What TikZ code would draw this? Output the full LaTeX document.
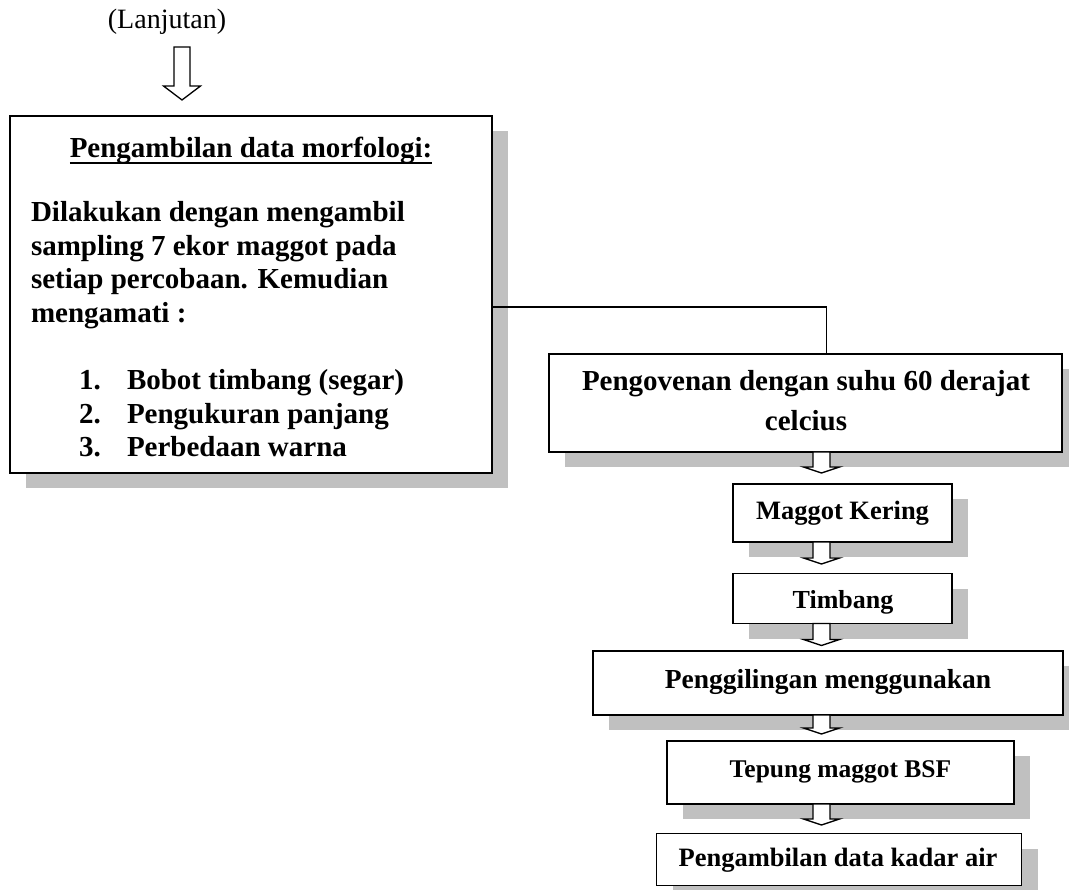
\documentclass[tikz,border=0pt]{standalone}
\usepackage{fontspec}
\setmainfont{Liberation Serif}
\usetikzlibrary{calc,shadows}
\definecolor{shgray}{RGB}{192,192,192}
\newcommand{\fsz}[1]{\fontsize{#1}{#1}\selectfont}
% #1 start point, #2 shaft half width, #3 head half width, #4 shaft length, #5 head length
\newcommand{\hollowarrow}[5]{%
  \draw[arrowline] ($#1+(-#2,0)$) -- ++(0,#4) -- ++({-(#3-#2)},0) -- ++(#3,#5) -- ++(#3,-#5) -- ++({-(#3-#2)},0) -- ++(0,-#4) -- cycle;}
\tikzset{
  boxnode/.style={draw=black, line width=1.8pt, fill=white, inner sep=0pt, outer sep=0pt, anchor=north west,
    drop shadow={shadow xshift=16pt, shadow yshift=-15pt, fill=shgray, opacity=1, draw=none}},
  lbl/.style={inner sep=0pt, outer sep=0pt, anchor=base, text=black},
  conn/.style={draw=black, line width=1.3pt},
  arrowline/.style={draw=black, line width=1.3pt, fill=white, line join=miter},
}
\begin{document}
\begin{tikzpicture}[x=1pt,y=-1pt]
\useasboundingbox (0,0) rectangle (1069,890);
\fill[white] (0,0) rectangle (1069,890);

% top label and arrow
\node[lbl, font=\fsz{28}] (lanj) at (167,29) {(Lanjutan)};
\coordinate (a0) at (182,47);
\hollowarrow{(a0)}{8}{18.5}{39}{14}

% big box
\node[boxnode, minimum width=482pt, minimum height=357pt] (big) at (10,116) {};
\node[lbl, font=\bfseries\fsz{29}] (ttl) at (251,158) {Pengambilan data morfologi:};
\draw[line width=1.8pt] ([yshift=-5pt]ttl.base west) -- ([yshift=-5pt]ttl.base east);
\node[lbl, anchor=base west, font=\bfseries\fsz{29}] (p1) at (31,222) {Dilakukan dengan mengambil};
\node[lbl, anchor=base west, font=\bfseries\fsz{29}] (p2) at (31,255.5) {sampling 7 ekor maggot pada};
\node[lbl, anchor=base west, font=\bfseries\fsz{29}] (p3) at (31,289) {setiap percobaan. Kemudian};
\node[lbl, anchor=base west, font=\bfseries\fsz{29}] (p4) at (31,322.5) {mengamati :};
\node[lbl, anchor=base west, font=\bfseries\fsz{29}] (n1) at (79,390) {1.};
\node[lbl, anchor=base west, font=\bfseries\fsz{29}] (l1) at (127,390) {Bobot timbang (segar)};
\node[lbl, anchor=base west, font=\bfseries\fsz{29}] (n2) at (79,423.5) {2.};
\node[lbl, anchor=base west, font=\bfseries\fsz{29}] (l2) at (127,423.5) {Pengukuran panjang};
\node[lbl, anchor=base west, font=\bfseries\fsz{29}] (n3) at (79,457) {3.};
\node[lbl, anchor=base west, font=\bfseries\fsz{29}] (l3) at (127,457) {Perbedaan warna};

% right column boxes
\node[boxnode, minimum width=513pt, minimum height=98pt] (pov) at (549,354) {};
\node[lbl, font=\bfseries\fsz{29}] (pov1) at (806,391) {Pengovenan dengan suhu 60 derajat};
\node[lbl, font=\bfseries\fsz{29}] (pov2) at (806,431) {celcius};

\node[boxnode, minimum width=219pt, minimum height=58pt] (mk) at (733,484) {};
\node[lbl, font=\bfseries\fsz{26.5}] (mkt) at (842.5,519) {Maggot Kering};

\node[boxnode, minimum width=219pt, minimum height=50pt] (tb) at (733,573.5) {};
\node[lbl, font=\bfseries\fsz{26}] (tbt) at (843,608.5) {Timbang};

\node[boxnode, minimum width=470pt, minimum height=64pt] (pg) at (593,651) {};
\node[lbl, font=\bfseries\fsz{27.5}] (pgt) at (828,688) {Penggilingan menggunakan};

\node[boxnode, minimum width=347pt, minimum height=63pt] (tp) at (667,741) {};
\node[lbl, font=\bfseries\fsz{25.5}] (tpt) at (840.5,777) {Tepung maggot BSF};

\node[boxnode, minimum width=365pt, minimum height=52pt] (ka) at (656.5,833.5) {};
\node[lbl, font=\bfseries\fsz{26.5}] (kat) at (838,866) {Pengambilan data kadar air};

% connector from big box to oven box
\draw[conn] ([yshift=-12.5pt]big.east) -| ([xshift=21pt]pov.north);

% hollow arrows between the right boxes
\coordinate (ax) at (821.5,0);
\coordinate (s1) at (pov.south -| ax);
\coordinate (s2) at (mk.south -| ax);
\coordinate (s3) at (tb.south -| ax);
\coordinate (s4) at (pg.south -| ax);
\coordinate (s5) at (tp.south -| ax);
\hollowarrow{(s1)}{8.5}{18}{15}{6}
\hollowarrow{(s2)}{8.5}{18}{16}{6}
\hollowarrow{(s3)}{8.5}{18}{16}{6}
\hollowarrow{(s4)}{8.5}{18}{13}{6}
\hollowarrow{(s5)}{8.5}{18}{15}{6}
\end{tikzpicture}
\end{document}
